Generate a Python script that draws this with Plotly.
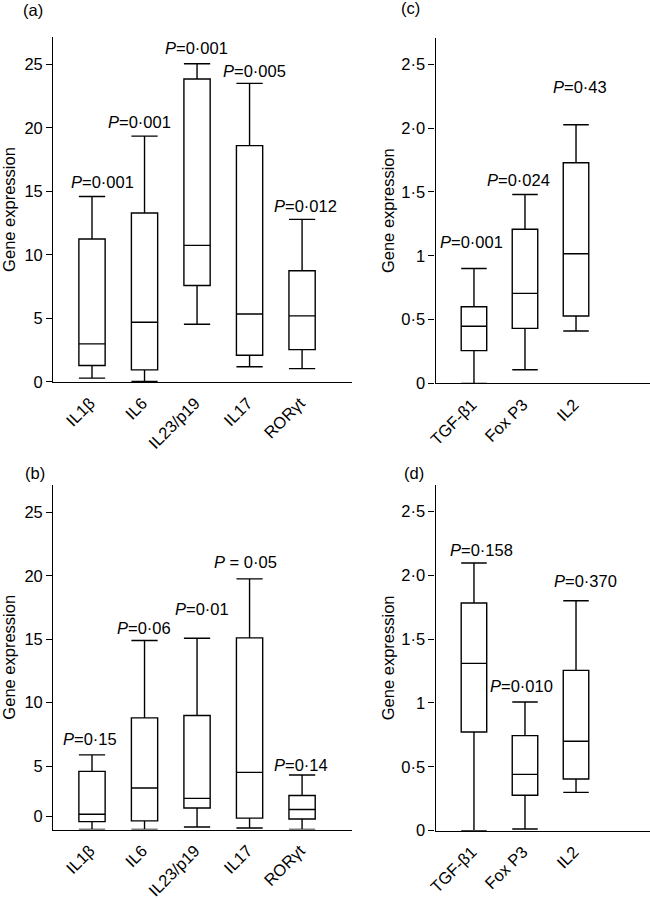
import plotly.graph_objects as go

# panel (a) / (b): Th17 related genes
genes_ab = ["IL1β", "IL6", "IL23/p19", "IL17", "RORγt"]
# panel (c) / (d): Treg related genes
genes_cd = ["TGF-β1", "Fox P3", "IL2"]

# box stats: lower whisker, Q1, median, Q3, upper whisker
a_low = [0.3, 0.05, 4.55, 1.2, 1.05]
a_q1 = [1.3, 0.95, 7.6, 2.1, 2.55]
a_med = [3.0, 4.7, 10.75, 5.35, 5.2]
a_q3 = [11.25, 13.3, 23.85, 18.6, 8.75]
a_high = [14.6, 19.35, 25.05, 23.5, 12.8]
a_p = ["0·001", "0·001", "0·001", "0·005", "0·012"]
a_label_y = [15.75, 20.5, 26.25, 24.5, 13.85]

b_low = [0.0, 0.0, 0.2, 0.12, 0.0]
b_q1 = [0.62, 0.68, 1.7, 0.9, 0.83]
b_med = [1.2, 3.27, 2.45, 4.5, 1.58]
b_q3 = [4.58, 8.8, 8.98, 15.1, 2.68]
b_high = [5.88, 14.9, 15.07, 19.75, 4.3]
b_p = ["0·15", "0·06", "0·01", " = 0·05", "0·14"]
b_label_y = [7.1, 15.85, 17.4, 21.05, 5.1]

c_low = [0.0, 0.107, 0.41]
c_q1 = [0.256, 0.431, 0.528]
c_med = [0.447, 0.705, 1.016]
c_q3 = [0.60, 1.207, 1.729]
c_high = [0.90, 1.48, 2.027]
c_p = ["0·001", "0·024", "0·43"]
c_label_y = [1.11, 1.594, 2.32]

d_low = [0.0, 0.013, 0.30]
d_q1 = [0.772, 0.277, 0.404]
d_med = [1.31, 0.441, 0.70]
d_q3 = [1.782, 0.744, 1.255]
d_high = [2.095, 1.007, 1.80]
d_p = ["0·158", "0·010", "0·370"]
d_label_y = [2.2, 1.133, 1.957]

FONT = "Liberation Sans, Arial, sans-serif"
FS = 16.5

panels = [
    ("(a)", genes_ab, a_low, a_q1, a_med, a_q3, a_high, a_p, a_label_y, [10, -5, -1, 5, 3]),
    ("(b)", genes_ab, b_low, b_q1, b_med, b_q3, b_high, b_p, b_label_y, [-2, -1, 5, -4, -1]),
    ("(c)", genes_cd, c_low, c_q1, c_med, c_q3, c_high, c_p, c_label_y, [-2, -6, 4]),
    ("(d)", genes_cd, d_low, d_q1, d_med, d_q3, d_high, d_p, d_label_y, [8, -3, 9]),
]

# axis boxes in paper coords
x_dom = {"(a)": [0.082, 0.5415], "(b)": [0.082, 0.5415], "(c)": [0.6703, 1.0], "(d)": [0.6703, 1.0]}
y_dom = {"(a)": [0.5751, 0.9588], "(b)": [0.0773, 0.4605], "(c)": [0.5736, 0.9577], "(d)": [0.0760, 0.4605]}
letter_pos = {"(a)": (33, 10), "(b)": (35, 473), "(c)": (410, 8), "(d)": (414, 473)}

fig = go.Figure()
layout = dict(
    width=650, height=899,
    margin=dict(l=0, r=0, t=0, b=0, autoexpand=False),
    paper_bgcolor="white", plot_bgcolor="white",
    font=dict(family=FONT, size=FS, color="black"),
    showlegend=False,
)
annotations = []

for i, (name, cats, low, q1, med, q3, high, pvals, label_y, shifts) in enumerate(panels):
    n = i + 1
    xa = "x" if n == 1 else "x%d" % n
    ya = "y" if n == 1 else "y%d" % n
    fig.add_trace(go.Box(
        x=cats, lowerfence=low, q1=q1, median=med, q3=q3, upperfence=high,
        xaxis=xa, yaxis=ya, width=0.5, whiskerwidth=1, boxpoints=False,
        line=dict(color="black", width=1.4), fillcolor="white",
    ))
    small = len(cats) == 3
    if small:
        yrange = [0, 2.706]
        tickvals = [0, 0.5, 1, 1.5, 2, 2.5]
        ticktext = ["0", "0·5", "1", "1·5", "2·0", "2·5"]
        xrange = [-0.75, 3.45]
        standoff = 2
    else:
        yrange = [0, 27.15]
        tickvals = [0, 5, 10, 15, 20, 25]
        if name == "(b)":
            tickvals = [1.05, 5, 10, 15, 20, 25]
        ticktext = ["0", "5", "10", "15", "20", "25"]
        xrange = [-0.737, 4.95]
        standoff = 11
    layout["xaxis" if n == 1 else "xaxis%d" % n] = dict(
        domain=x_dom[name], anchor=ya, type="category", categoryorder="array",
        categoryarray=cats, range=xrange, showline=True, linecolor="black",
        linewidth=1.4, ticks="", tickangle=-45, showgrid=False, zeroline=False,
        tickfont=dict(size=FS, family=FONT), ticklabelshift=-2,
        ticklabelstandoff=4, automargin=False,
    )
    layout["yaxis" if n == 1 else "yaxis%d" % n] = dict(
        domain=y_dom[name], anchor=xa, range=yrange, tickvals=tickvals,
        ticktext=ticktext, showline=True, linecolor="black", linewidth=1.4,
        ticks="outside", ticklen=6, tickwidth=1.4, tickcolor="black",
        showgrid=False, zeroline=False, tickfont=dict(size=FS, family=FONT),
        title=dict(text="Gene expression", font=dict(size=FS, family=FONT), standoff=standoff),
        automargin=False,
    )
    for cat, p, ly, sh in zip(cats, pvals, label_y, shifts):
        txt = "<i>P</i>" + (p if p.startswith(" ") else "=" + p)
        annotations.append(dict(
            x=cat, y=ly, xref=xa, yref=ya, text=txt, showarrow=False,
            xshift=sh, font=dict(size=FS, family=FONT, color="black"),
        ))
    lx, ly = letter_pos[name]
    annotations.append(dict(
        x=lx / 650, y=1 - ly / 899, xref="paper", yref="paper", text=name,
        xanchor="center", yanchor="middle", showarrow=False,
        font=dict(size=FS, family=FONT, color="black"),
    ))

layout["annotations"] = annotations
fig.update_layout(**layout)
fig.write_html("out.html", config={"displayModeBar": False},
               post_script="document.body.style.margin='0';")
